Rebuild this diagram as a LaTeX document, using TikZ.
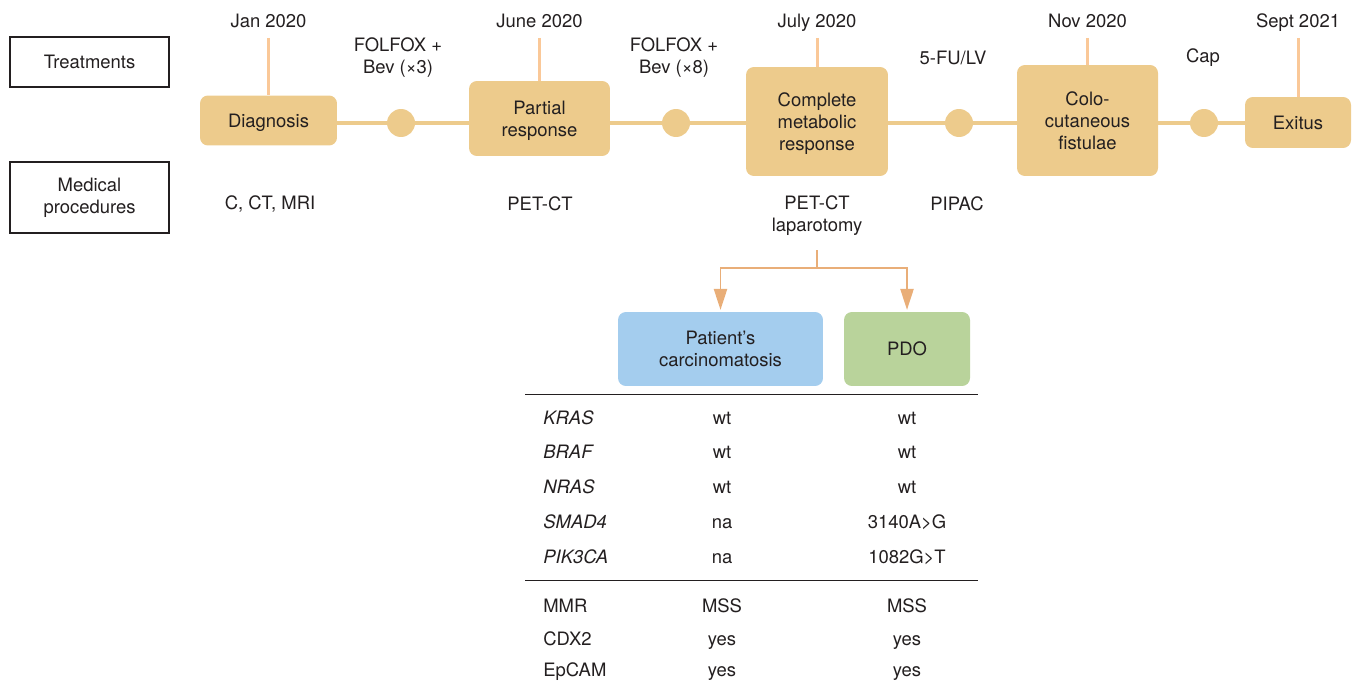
\documentclass[tikz,border=0pt]{standalone}
\usepackage{fontspec}
\setmainfont{TeX Gyre Heros}
\usetikzlibrary{arrows.meta}

\definecolor{stagefill}{HTML}{EDCB8C}
\definecolor{stickc}{HTML}{FAC898}
\definecolor{branchc}{HTML}{E9AE78}
\definecolor{patfill}{HTML}{A4CDEE}
\definecolor{pdofill}{HTML}{B9D39B}
\definecolor{txtc}{HTML}{231F20}

\tikzset{
	txtnode/.style={text=txtc, align=center, inner sep=0pt, font=\fontsize{10.5}{12.5}\selectfont},
	stage/.style={txtnode, fill=stagefill, rounded corners=4.5pt, text depth=0pt},
	dot/.style={circle, fill=stagefill, minimum size=0.56cm, inner sep=0pt},
	sidebox/.style={txtnode, draw=txtc, line width=0.7pt, minimum width=3.18cm},
	tline/.style={stagefill, line width=2.3pt},
	stick/.style={stickc, line width=1.7pt},
	branch/.style={branchc, line width=1.1pt, shorten >=1pt, -{Triangle[width=7.5pt,length=12pt]}},
	rule/.style={txtc, line width=0.85pt}
}

% stage box on the timeline, with its date above
\newcommand{\tlStage}[7]{
	\pgfmathsetmacro{\TSx}{#2}
	\pgfmathsetmacro{\TSy}{#3}
	\node[stage, minimum width=#4cm, minimum height=#5cm] (#1) at (\TSx, \TSy) {#7};
	\node[txtnode, anchor=base] (#1date) at (\TSx, 27.6) {#6};
	\coordinate (#1top) at (\TSx, 38);
	\draw[stick] (#1top) -- (#1.north);
}

% one row of the marker table
\newcommand{\tabRow}[5]{
	\pgfmathsetmacro{\TRy}{#2 + 6.6}
	\node[txtnode, anchor=base west] (#1lab) at (543, \TRy) {#3};
	\node[txtnode, anchor=base] (#1pat) at (722, \TRy) {#4};
	\node[txtnode, anchor=base] (#1pdo) at (907, \TRy) {#5};
}

\begin{document}
\begin{tikzpicture}[x=0.02cm, y=-0.02cm]
\useasboundingbox (0,0) rectangle (1352,686);

\node[sidebox, minimum height=1.0cm] (treat) at (89.5, 62) {Treatments};
\node[sidebox, minimum height=1.42cm] (proc) at (89.5, 197.5) {Medical\\procedures};

% timeline
\node[dot] (d1) at (401, 123) {};
\node[dot] (d2) at (676, 123) {};
\node[dot] (d3) at (959, 123) {};
\node[dot] (d4) at (1204, 123) {};

\tlStage{diag}{268.5}{120.5}{2.74}{1.0}{Jan 2020}{Diagnosis}
\tlStage{partial}{539.5}{118.5}{2.82}{1.5}{June 2020}{Partial\\response}
\tlStage{cmr}{817}{121.5}{2.84}{2.18}{July 2020}{Complete\\metabolic\\response}
\tlStage{fist}{1087.5}{120.5}{2.82}{2.22}{Nov 2020}{Colo-\\cutaneous\\fistulae}
\tlStage{exitus}{1298}{122.5}{2.12}{1.02}{Sept 2021}{Exitus}

\draw[tline] (diag.east |- d1) -- (d1) -- (d1 -| partial.west);
\draw[tline] (partial.east |- d2) -- (d2) -- (d2 -| cmr.west);
\draw[tline] (cmr.east |- d3) -- (d3) -- (d3 -| fist.west);
\draw[tline] (fist.east |- d4) -- (d4) -- (d4 -| exitus.west);

% treatments
\node[txtnode] (tr1) at (398, 58) {FOLFOX +\\Bev (×3)};
\node[txtnode] (tr2) at (674, 58) {FOLFOX +\\Bev (×8)};
\node[txtnode] (tr3) at (953, 58) {5-FU/LV};
\node[txtnode] (tr4) at (1203, 58) {Cap};

% procedures
\node[txtnode] (pr1) at (270, 204) {C, CT, MRI};
\node[txtnode] (pr2) at (540, 204) {PET-CT};
\node[txtnode] (pr3) at (817, 216) {PET-CT\\laparotomy};
\node[txtnode] (pr4) at (957, 204) {PIPAC};

% samples
\node[txtnode, fill=patfill, rounded corners=4.5pt, minimum width=4.1cm, minimum height=1.48cm] (pat) at (720.5, 349) {Patient’s\\carcinomatosis};
\node[txtnode, fill=pdofill, rounded corners=4.5pt, minimum width=2.52cm, minimum height=1.48cm] (pdo) at (907, 349) {PDO};

\coordinate (forktop) at (817, 250);
\coordinate (fork) at (817, 268);
\draw[branchc, line width=1.1pt] (forktop) -- (fork);
\draw[branch] (fork) -| (pat.north);
\draw[branch] (fork) -| (pdo.north);

% table
\draw[rule] (525, 394.5) -- (978, 394.5);
\draw[rule] (525, 580.5) -- (978, 580.5);

\tabRow{kras}{417.7}{\textit{KRAS}}{wt}{wt}
\tabRow{braf}{451.7}{\textit{BRAF}}{wt}{wt}
\tabRow{nras}{486.7}{\textit{NRAS}}{wt}{wt}
\tabRow{smad}{521.7}{\textit{SMAD4}}{na}{3140A>G}
\tabRow{pik}{556.7}{\textit{PIK3CA}}{na}{1082G>T}
\tabRow{mmr}{605.7}{MMR}{MSS}{MSS}
\tabRow{cdx}{639}{CDX2}{yes}{yes}
\tabRow{epcam}{669.5}{EpCAM}{yes}{yes}
\end{tikzpicture}
\end{document}
